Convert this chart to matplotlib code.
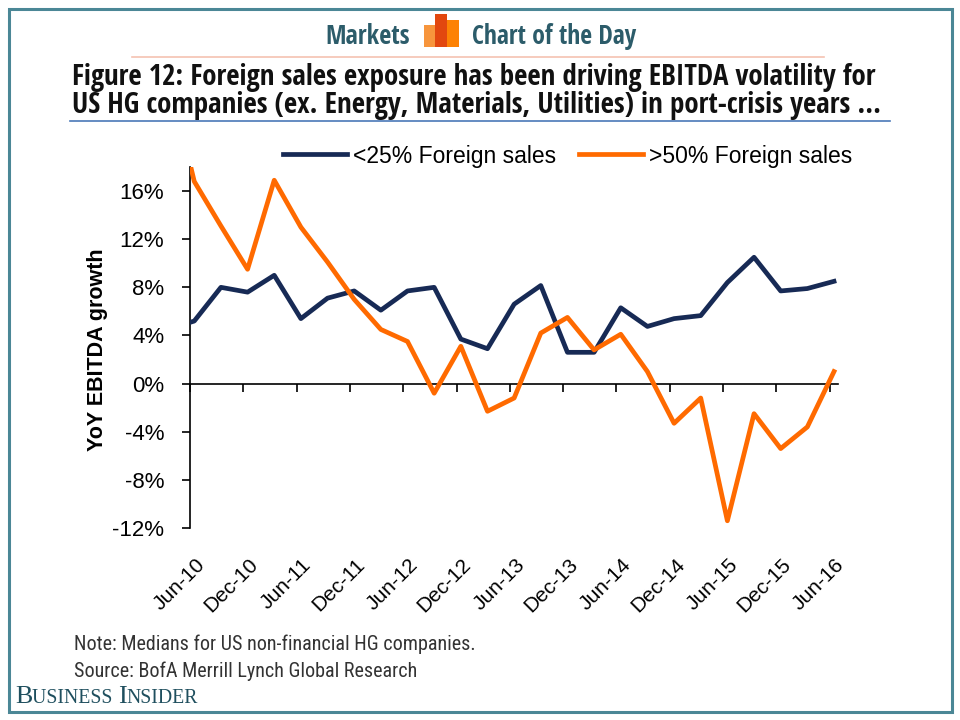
import matplotlib
matplotlib.use('Agg')
import matplotlib.pyplot as plt
import numpy as np
from matplotlib import font_manager as fm
from matplotlib.patches import Rectangle
from matplotlib.lines import Line2D
from matplotlib.transforms import blended_transform_factory, offset_copy

# quarterly YoY EBITDA growth (%), first quarter sits left of the axis and gets clipped
quarters = ['Mar-10', 'Jun-10', 'Sep-10', 'Dec-10', 'Mar-11', 'Jun-11', 'Sep-11', 'Dec-11',
            'Mar-12', 'Jun-12', 'Sep-12', 'Dec-12', 'Mar-13', 'Jun-13', 'Sep-13', 'Dec-13',
            'Mar-14', 'Jun-14', 'Sep-14', 'Dec-14', 'Mar-15', 'Jun-15', 'Sep-15', 'Dec-15',
            'Mar-16', 'Jun-16']
low_foreign = [4.5, 5.2, 8.0, 7.6, 9.0, 5.4, 7.1, 7.7, 6.1, 7.7, 8.0, 3.7, 2.9,
               6.6, 8.15, 2.6, 2.6, 6.3, 4.75, 5.4, 5.65, 8.4, 10.5, 7.7, 7.9, 8.5]
high_foreign = [26.0, 16.8, 13.1, 9.5, 16.9, 13.0, 10.1, 7.0, 4.5, 3.5, -0.8, 3.1, -2.3,
                -1.2, 4.2, 5.5, 2.8, 4.1, 1.0, -3.3, -1.2, -11.4, -2.5, -5.4, -3.6, 1.0]
tick_labels = ['Jun-10', 'Dec-10', 'Jun-11', 'Dec-11', 'Jun-12', 'Dec-12', 'Jun-13',
               'Dec-13', 'Jun-14', 'Dec-14', 'Jun-15', 'Dec-15', 'Jun-16']
y_ticks = [-12, -8, -4, 0, 4, 8, 12, 16]

NAVY = '#172a55'
ORANGE = '#ff6a00'
TEAL = '#2c5c6a'

fonts = fm.fontManager.ttflist
CONDENSED = ('condensed', 'semi-condensed', 'extra-condensed')


def weight_of(f):
    w = f.weight
    if isinstance(w, str):
        w = fm.weight_dict.get(w, 400)
    return w


def find_face(names, lo, hi):
    for name in names:
        for f in fonts:
            if f.name == name and lo <= weight_of(f) <= hi:
                return dict(family=name, stretch=f.stretch, weight=weight_of(f))
    for name in ['Open Sans', 'Noto Sans', 'Roboto', 'DejaVu Sans']:
        for f in fonts:
            if f.name == name and f.stretch in CONDENSED and lo <= weight_of(f) <= hi:
                return dict(family=name, stretch=f.stretch, weight=weight_of(f))
    return None


narrow_names = ['Open Sans Condensed', 'Liberation Sans Narrow', 'Roboto Condensed',
                'Noto Sans Condensed', 'DejaVu Sans Condensed']
narrow_bold = find_face(narrow_names, 600, 900) or dict(family='Roboto', weight='bold')
narrow_reg = find_face(['Open Sans Condensed Light'] + narrow_names, 250, 500)
if narrow_reg is None:
    narrow_reg = dict(family='Open Sans', weight='normal')
SERIF = 'Liberation Serif'
plt.rcParams['font.family'] = 'Liberation Sans'

W, H = 960, 720
fig = plt.figure(figsize=(9.6, 7.2), dpi=100)
fig.patch.set_facecolor('white')


def px(x, y):
    return x / W, 1 - y / H


def fit_width(t, width):
    r = fig.canvas.get_renderer()
    w = t.get_window_extent(r).width
    t.set_fontsize(t.get_fontsize() * width / w)
    return t.get_fontsize()


# frame
fig.add_artist(Rectangle(px(8.5, 711.5), (952 - 8.5) / W, (711.5 - 8.5) / H,
                         transform=fig.transFigure, fill=False, edgecolor='#4b8796', lw=2.2))

# header
t = fig.text(*px(410, 37), 'Markets', ha='right', va='center',
             color=TEAL, fontsize=18, **narrow_bold)
fit_width(t, 85)
t = fig.text(*px(472, 37), 'Chart of the Day', ha='left', va='center',
             color=TEAL, fontsize=18, **narrow_bold)
fit_width(t, 165)
for x0, y0, c in [(424, 25, '#f7953c'), (435, 14, '#e2470f'), (447, 20, '#fd8204')]:
    fig.add_artist(Rectangle(px(x0, 47), 11.5 / W, (47 - y0) / H,
                             transform=fig.transFigure, color=c, lw=0))
fig.add_artist(Line2D([132 / W, 824 / W], [1 - 57 / H] * 2, color='#f5c2b2', lw=1.2,
                      transform=fig.transFigure))

# title
t1 = fig.text(*px(72, 78), 'Figure 12: Foreign sales exposure has been driving EBITDA volatility for',
              ha='left', va='center', color='#111111', fontsize=16, **narrow_bold)
size = fit_width(t1, 806)
fig.text(*px(72, 105), 'US HG companies (ex. Energy, Materials, Utilities) in port-crisis years ...',
         ha='left', va='center', color='#111111', fontsize=size, **narrow_bold)
fig.add_artist(Line2D([70 / W, 890 / W], [1 - 121 / H] * 2, color='#4a78b8', lw=1.2,
                      transform=fig.transFigure))

# chart
ax = fig.add_axes([190 / W, 1 - 528 / H, 648 / W, 361 / H])
x = np.arange(len(quarters)) - 1
ax.plot(x, low_foreign, color=NAVY, lw=3.4, label='<25% Foreign sales', zorder=3)
ax.plot(x, high_foreign, color=ORANGE, lw=3.4, label='>50% Foreign sales', zorder=3)

ax.set_xlim(-0.16, 24.15)
ax.set_ylim(-12, 18)
ax.spines['bottom'].set_position(('data', 0))
ax.spines[['top', 'right']].set_visible(False)
for s in ['left', 'bottom']:
    ax.spines[s].set_linewidth(1.2)

xt = np.arange(0, 25, 2) - 0.16
ax.set_xticks(xt)
ax.set_yticks(y_ticks)
ax.set_yticklabels([f'{v}%' for v in y_ticks])
ax.tick_params(axis='x', direction='out', length=5.5, width=1.2, labelbottom=False)
ax.tick_params(axis='y', direction='out', length=5.5, width=1.2, labelsize=16, pad=13)

trans = offset_copy(blended_transform_factory(ax.transData, ax.transAxes), fig,
                    x=5, y=-27, units='dots')
for pos, lab in zip(xt, tick_labels):
    ax.text(pos, 0, lab, transform=trans, rotation=45, rotation_mode='anchor',
            ha='right', va='top', fontsize=15)

fig.text(*px(97, 350), 'YoY EBITDA growth', rotation=90, ha='center', va='center',
         weight='bold', fontsize=15.5)

ax.legend(loc='center', bbox_to_anchor=px((280 + 855) / 2, 156), bbox_transform=fig.transFigure,
          ncol=2, frameon=False, fontsize=16.5, handlelength=2.8, handletextpad=0.25,
          columnspacing=1.0, borderpad=0, borderaxespad=0)

# notes
n2 = fig.text(*px(74, 671), 'Source: BofA Merrill Lynch Global Research', ha='left', va='center',
              color='#333333', fontsize=12, **narrow_reg)
nsize = fit_width(n2, 343)
fig.text(*px(74, 644), 'Note: Medians for US non-financial HG companies.', ha='left',
         va='center', color='#333333', fontsize=nsize, **narrow_reg)

# business insider wordmark (small caps made of two sizes)
pieces = [('B', 1.0), ('USINESS ', 0.76), ('I', 1.0), ('NSIDER', 0.76)]
base = 16
r = fig.canvas.get_renderer()
for attempt in range(2):
    xcur = 15
    arts = []
    for s, k in pieces:
        a = fig.text(xcur / W, 1 - 703 / H, s, fontsize=base * k, family=SERIF,
                     color='#1f4f5e', va='baseline', ha='left')
        arts.append(a)
        xcur += a.get_window_extent(r).width
    total = xcur - 15
    if attempt == 0:
        for a in arts:
            a.remove()
        base = base * 182 / total

fig.savefig('out.png', dpi=100)
